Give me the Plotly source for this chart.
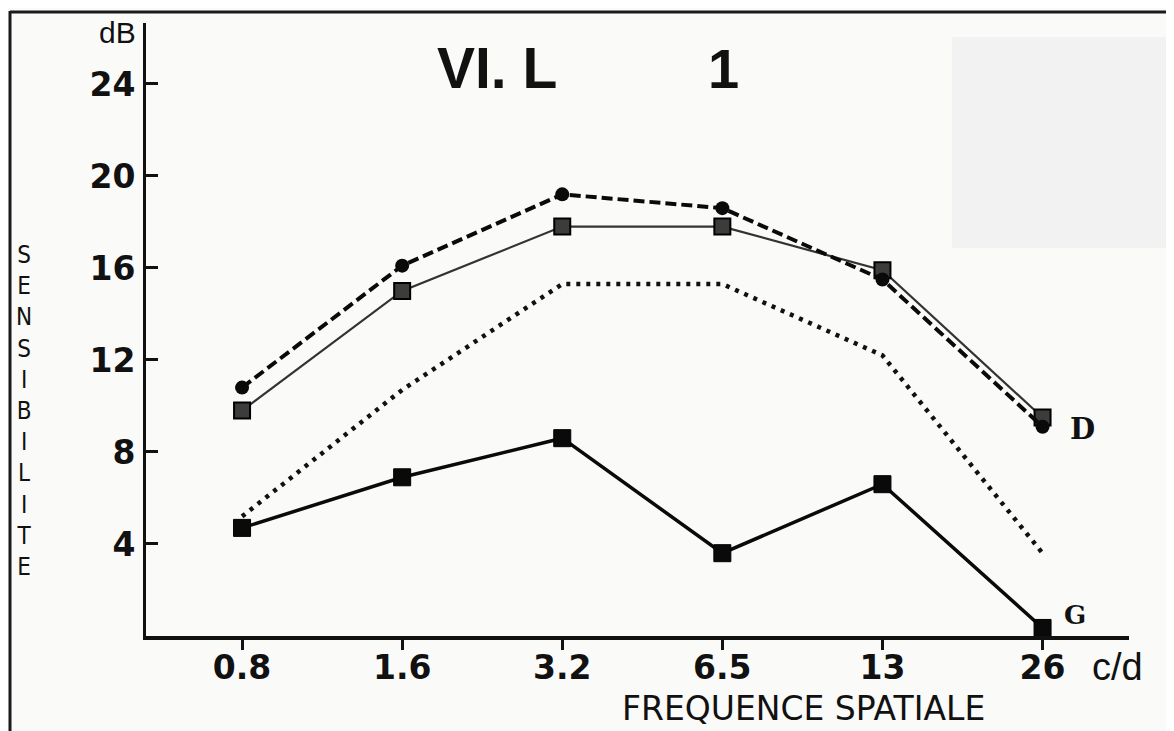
import plotly.graph_objects as go

# ---- data ----
categories = ["0.8", "1.6", "3.2", "6.5", "13", "26"]
d_dashed_circles = [10.8, 16.1, 19.2, 18.6, 15.5, 9.1]
d_solid_squares = [9.8, 15.0, 17.8, 17.8, 15.9, 9.5]
dotted_curve = [5.2, 10.7, 15.3, 15.3, 12.2, 3.6]
g_solid_squares = [4.7, 6.9, 8.6, 3.6, 6.6, 0.35]
y_ticks = [4, 8, 12, 16, 20, 24]

xs = list(range(len(categories)))

# page offset of the figure (default body margin of the html page)
OFF = 8
W, H = 1174 - OFF, 731 - OFF
# plot area in page pixels: left 146, right 1129, top 23, bottom 636
L, R, T, B = 146 - OFF, W - (1129 - OFF), 23 - OFF, H - (636 - OFF)
PW, PH = W - L - R, H - T - B


def px(x):  # page pixel -> paper
    return (x - OFF - L) / PW


def py(y):  # page pixel (from top) -> paper
    return (H - B - (y - OFF)) / PH


BG = "#fafaf9"
fig = go.Figure()

fig.add_trace(go.Scatter(
    x=xs, y=dotted_curve, mode="lines",
    line=dict(color="#111111", width=4.5, dash="4px,6px"),
    hoverinfo="skip"))

fig.add_trace(go.Scatter(
    x=xs, y=g_solid_squares, mode="lines+markers",
    line=dict(color="#0a0a0a", width=3.5),
    marker=dict(symbol="square", size=17, color="#0a0a0a",
                line=dict(color="#000000", width=1)),
    hoverinfo="skip"))

fig.add_trace(go.Scatter(
    x=xs, y=d_solid_squares, mode="lines+markers",
    line=dict(color="#333333", width=2.2),
    marker=dict(symbol="square", size=16, color="#3c3c3c",
                line=dict(color="#000000", width=2)),
    hoverinfo="skip"))

fig.add_trace(go.Scatter(
    x=xs, y=d_dashed_circles, mode="lines+markers",
    line=dict(color="#0a0a0a", width=4, dash="11px,5px"),
    marker=dict(symbol="circle", size=14, color="#0a0a0a"),
    hoverinfo="skip"))

tickfont = dict(family="DejaVu Sans", size=33, color="#111111", weight="bold")

fig.update_xaxes(
    range=[-0.6, 5.54], tickmode="array", tickvals=xs, ticktext=categories,
    showline=True, linecolor="#111111", linewidth=4, mirror=False,
    ticks="outside", ticklen=10, tickwidth=2.5, tickcolor="#111111",
    ticklabelstandoff=-11,
    showgrid=False, zeroline=False, tickfont=tickfont)

fig.update_yaxes(
    range=[0, 26.65], tickmode="array", tickvals=y_ticks,
    ticktext=[str(v) for v in y_ticks],
    showline=True, linecolor="#111111", linewidth=3,
    ticks="inside", ticklen=12, tickwidth=2.5, tickcolor="#111111",
    ticklabelstandoff=1,
    showgrid=False, zeroline=False, tickfont=tickfont)

ann = []


def add_text(text, x, y, size, family="Liberation Sans", weight="normal",
             color="#111111", yanchor="middle"):
    ann.append(dict(text=text, x=px(x), y=py(y), xref="paper", yref="paper",
                    xanchor="center", yanchor=yanchor, showarrow=False,
                    font=dict(family=family, size=size, color=color, weight=weight)))


add_text("VI. L", 497, 68, 57, weight="bold")
add_text("1", 723, 68, 56, weight="bold")
add_text("dB", 117, 33, 30)
add_text("c/d", 1117, 667, 38)
add_text("FREQUENCE SPATIALE", 803, 730, 33, family="DejaVu Sans", yanchor="bottom")
add_text("D", 1082, 429, 29, family="DejaVu Serif", weight="bold")
add_text("G", 1075, 615, 26, family="DejaVu Serif", weight="bold")

y_title = "SENSIBILITE"
add_text("<br>".join(list(y_title)), 24, 411, 24, family="DejaVu Sans Condensed")

shapes = [
    # faint grey patch at top-right of the scan
    dict(type="rect", xref="paper", yref="paper", x0=px(952), x1=px(1168),
         y0=py(248), y1=py(37), fillcolor="#f2f2f2", line=dict(width=0), layer="below"),
    # photo frame lines
    dict(type="line", xref="paper", yref="paper", x0=px(10), x1=px(1180),
         y0=py(12), y1=py(12), line=dict(color="#1a1a1a", width=3)),
    dict(type="line", xref="paper", yref="paper", x0=px(10), x1=px(10),
         y0=py(11), y1=py(740), line=dict(color="#1a1a1a", width=3)),
]

fig.update_layout(
    width=W, height=H, margin=dict(l=L, r=R, t=T, b=B),
    paper_bgcolor=BG, plot_bgcolor=BG, showlegend=False,
    annotations=ann, shapes=shapes, hovermode=False)

fig.write_html("out.html")
